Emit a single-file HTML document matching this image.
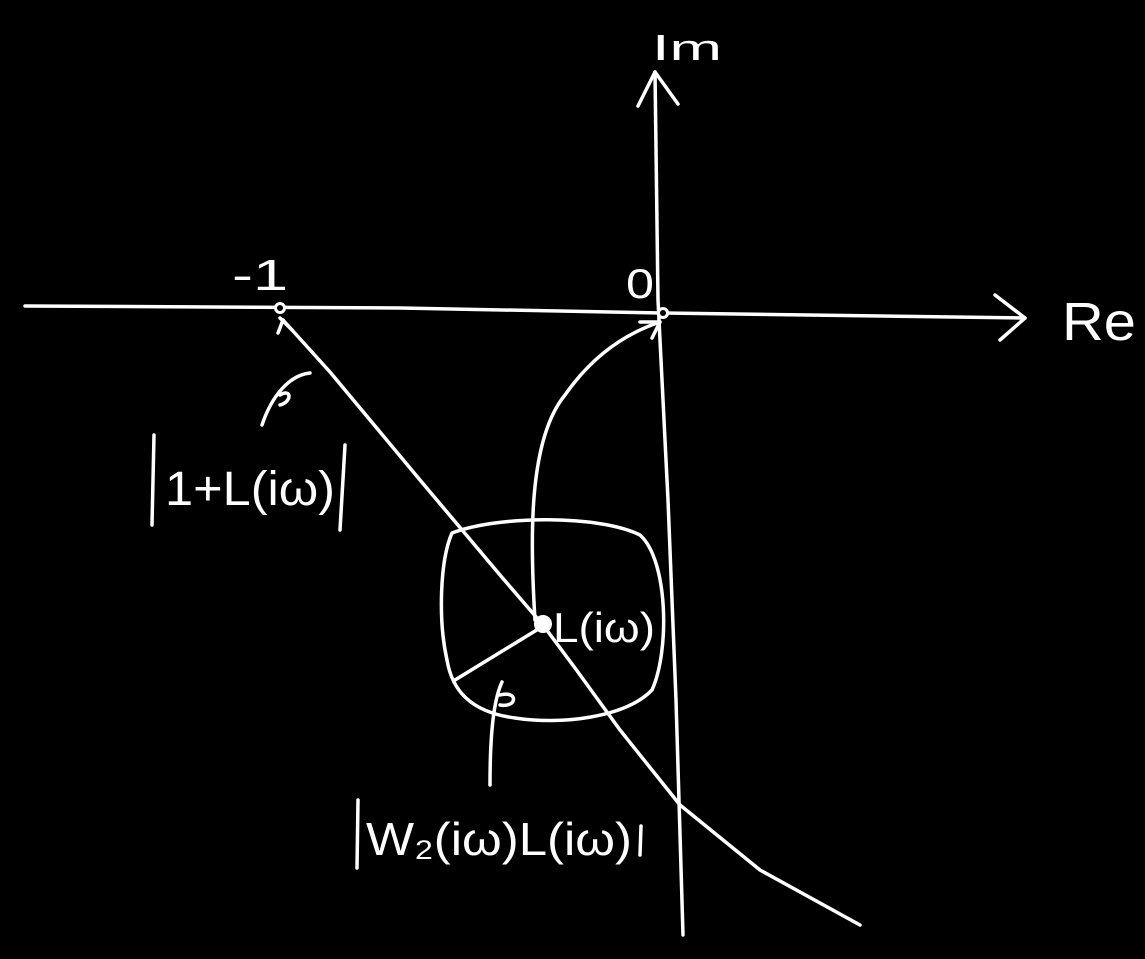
<!DOCTYPE html>
<html><head><style>
html,body{margin:0;padding:0;background:#000;}
svg{display:block;}
text{fill:#fff;font-family:"Liberation Sans",sans-serif;}
</style></head><body>
<svg width="1145" height="959" viewBox="0 0 1145 959">
<g fill="none" stroke="#fff" stroke-width="3.5" stroke-linecap="round" stroke-linejoin="round">
<!-- Re axis -->
<path d="M25 306 L400 308 L663 313 L1025 318"/>
<path d="M995 295 L1025 318 L1000 340"/>
<!-- Im axis -->
<path d="M655 72 L658 300 L668 500 L676 700 L683 935"/>
<path d="M638 106 L655 72 L678 104"/>
<!-- diagonal line -->
<path d="M283 320 L330 372 L420 480 L500 575 L543 625 L575 668 L620 730 L680 805 L760 870 L860 925"/>
<path d="M280 318 L292 330 M283 320 L278 333"/>
<!-- curve to 0 -->
<path d="M535 620 C530 540 528 440 565 395 C595 352 630 332 660 322"/>
<path d="M640 322 L660 322 L652 338"/>
<!-- circle-ish -->
<path d="M452 533 C500 515 600 515 640 535 C668 560 670 650 652 690 C625 718 560 725 515 718 C470 712 452 690 447 660 C438 620 440 560 452 533 Z"/>
<!-- radius -->
<path d="M540 628 L455 680"/>
<!-- leaders -->
<path d="M310 373 C290 375 272 395 262 425 M280 405 C292 402 292 388 280 395"/>
<path d="M502 682 C496 695 490 720 490 785 M500 705 C518 708 518 690 500 695"/>
<!-- brackets -->
<path d="M154 435 L152 525"/>
<path d="M345 445 L340 530"/>
<path d="M358 800 L357 868"/>
<path d="M641 826 L640 855"/>
</g>
<circle cx="280" cy="308" r="6" fill="#fff"/>
<circle cx="280" cy="308" r="3" fill="#000"/>
<circle cx="663" cy="313" r="6" fill="#fff"/>
<circle cx="663" cy="313" r="3" fill="#000"/>
<circle cx="543" cy="624" r="9" fill="#fff"/>
<text x="652" y="60" font-size="36" textLength="70" lengthAdjust="spacingAndGlyphs">Im</text>
<text x="1062" y="340" font-size="54" textLength="74" lengthAdjust="spacingAndGlyphs">Re</text>
<text x="232" y="290" font-size="44" textLength="56" lengthAdjust="spacingAndGlyphs">-1</text>
<text x="626" y="298" font-size="42" textLength="28" lengthAdjust="spacingAndGlyphs">0</text>
<text x="553" y="642" font-size="42" textLength="102" lengthAdjust="spacingAndGlyphs">L(iω)</text>
<text x="165" y="505" font-size="48" textLength="170" lengthAdjust="spacingAndGlyphs">1+L(iω)</text>
<text x="366" y="855" font-size="46" textLength="266" lengthAdjust="spacingAndGlyphs">W₂(iω)L(iω)</text>
</svg>
</body></html>
